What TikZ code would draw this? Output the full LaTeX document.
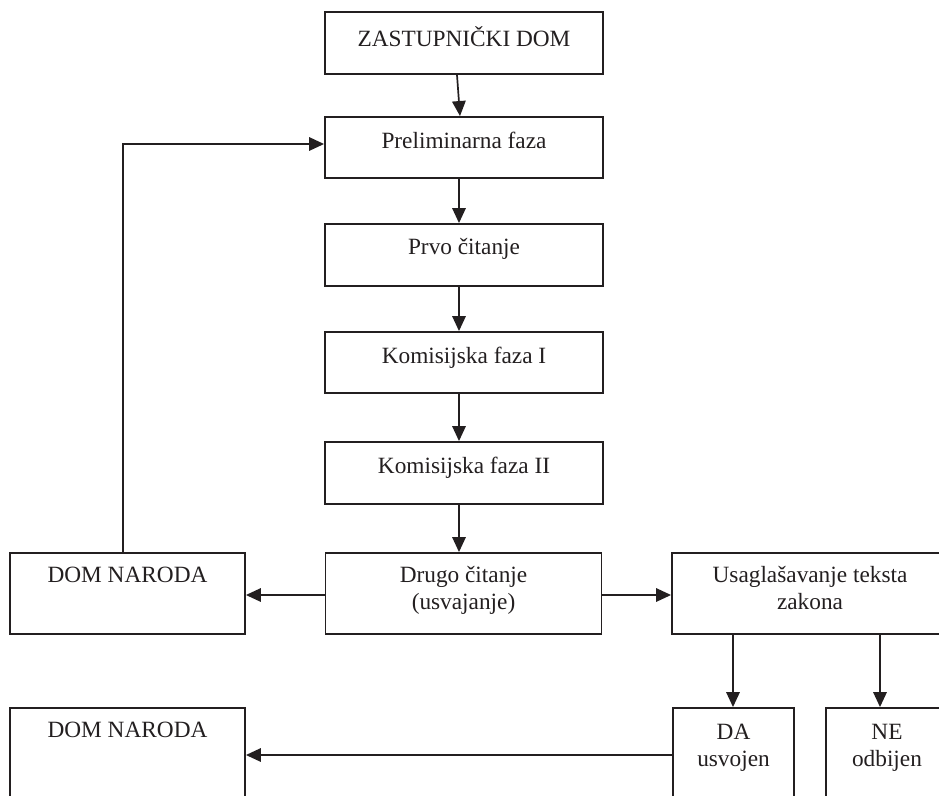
\documentclass[tikz,border=0pt]{standalone}
\usepackage{fontspec}
\setmainfont{Liberation Serif}
\usetikzlibrary{arrows.meta}
\definecolor{ink}{HTML}{231F20}
\tikzset{
  box/.style={draw=ink, line width=1.9pt, rectangle, inner sep=0pt, minimum width=278pt, minimum height=62pt},
  lbl/.style={anchor=north, inner sep=0pt, align=center, text=ink,
    font=\fontsize{23.3}{27}\selectfont},
  conn/.style={draw=ink, line width=1.7pt, -{Triangle[length=15pt,width=13.5pt]}},
}
\newcommand{\fl}{\rule{0pt}{16pt}}
\begin{document}
\begin{tikzpicture}[x=1pt,y=-1pt]
\useasboundingbox (0,0) rectangle (939,795);
\fill[white] (0,0) rectangle (939,795);
\begin{scope}
\clip (0,0) rectangle (939,795);
% boxes
\node[box] (zast) at (464,43) {};
\node[box, minimum height=61pt] (prel) at (464,147.5) {};
\node[box] (prvo) at (464,255) {};
\node[box, minimum height=61pt] (kom1) at (464,362.5) {};
\node[box] (kom2) at (464,473) {};
\node[box, minimum width=276pt, minimum height=81pt] (drugo) at (463.5,593.5) {};
\node[box, minimum width=235pt, minimum height=81pt] (dn1) at (127.5,593.5) {};
\node[box, minimum width=276pt, minimum height=81pt] (usag) at (810,593.5) {};
\node[box, minimum width=121pt, minimum height=94pt] (da) at (733.5,755) {};
\node[box, minimum width=122pt, minimum height=94pt] (ne) at (887,755) {};
\node[box, minimum width=235pt, minimum height=94pt] (dn2) at (127.5,755) {};
% labels
\node[lbl] (tzast) at ([yshift=-15.5pt]zast.north) {\fl ZASTUPNIČKI DOM};
\node[lbl] (tprel) at ([yshift=-15.5pt]prel.north) {\fl Preliminarna faza};
\node[lbl] (tprvo) at ([yshift=-15.5pt]prvo.north) {\fl Prvo čitanje};
\node[lbl] (tkom1) at ([yshift=-15.5pt]kom1.north) {\fl Komisijska faza I};
\node[lbl] (tkom2) at ([yshift=-15.5pt]kom2.north) {\fl Komisijska faza II};
\node[lbl] (tdrugo) at ([yshift=-14.5pt]drugo.north) {\fl Drugo čitanje\\(usvajanje)};
\node[lbl] (tdn1) at ([yshift=-14.5pt]dn1.north) {\fl DOM NARODA};
\node[lbl] (tusag) at ([yshift=-14.5pt]usag.north) {\fl Usaglašavanje teksta\\zakona};
\node[lbl] (tda) at ([yshift=-16pt]da.north) {\fl DA\\usvojen};
\node[lbl] (tne) at ([yshift=-16pt]ne.north) {\fl NE\\odbijen};
\node[lbl] (tdn2) at ([yshift=-14.5pt]dn2.north) {\fl DOM NARODA};
% connectors
\draw[conn] ([xshift=-7pt]zast.south) -- ([xshift=-4pt]prel.north);
\draw[conn] ([xshift=-5pt]prel.south) -- ([xshift=-5pt]prvo.north);
\draw[conn] ([xshift=-5pt]prvo.south) -- ([xshift=-5pt]kom1.north);
\draw[conn] ([xshift=-5pt]kom1.south) -- ([xshift=-5pt]kom2.north);
\draw[conn] ([xshift=-5pt]kom2.south) -- ([xshift=-4.5pt]drugo.north);
\draw[conn] ([yshift=-1.5pt]drugo.west) -- ([yshift=-1.5pt]dn1.east);
\draw[conn] ([yshift=-1.5pt]drugo.east) -- ([yshift=-1.5pt]usag.west);
\draw[conn] ([xshift=-4.5pt]dn1.north) |- ([yshift=3.5pt]prel.west);
\draw[conn] ([xshift=-0.5pt]da.north |- usag.south) -- ([xshift=-0.5pt]da.north);
\draw[conn] ([xshift=-7pt]ne.north |- usag.south) -- ([xshift=-7pt]ne.north);
\draw[conn] (da.west) -- (dn2.east);
\end{scope}
\end{tikzpicture}
\end{document}
